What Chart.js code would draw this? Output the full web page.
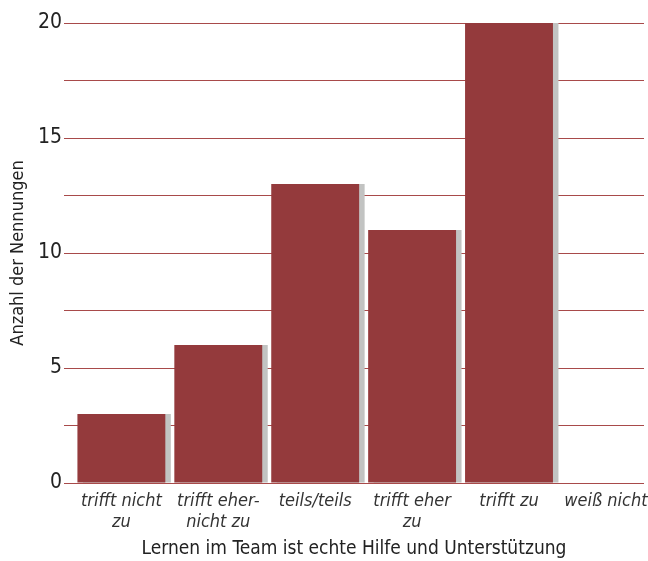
<!DOCTYPE html>
<html>
<head>
<meta charset="utf-8">
<script src="https://cdn.jsdelivr.net/npm/chart.js@4/dist/chart.umd.min.js"></script>
<style>
  html, body { margin: 0; padding: 0; background: #ffffff; }
  #wrap { width: 648px; height: 561px; }
</style>
</head>
<body>
<div id="wrap"><canvas id="c" width="648" height="561"></canvas></div>
<script>
// Answer categories (multi-line axis labels)
const categories = [
  ['trifft nicht', 'zu'],
  ['trifft eher-', 'nicht zu'],
  ['teils/teils'],
  ['trifft eher', 'zu'],
  ['trifft zu'],
  ['weiß nicht']
];
// Number of mentions per category
const counts = [3, 6, 13, 11, 20, 0];
// Value axis: labelled ticks and grid step
const yLabelledTicks = [0, 5, 10, 15, 20];
const yGridStep = 2.5;

const FONT = "'Liberation Sans Narrow', 'DejaVu Sans Condensed', 'Roboto', sans-serif";

// Flat grey offset shadow behind each bar
const barShadow = {
  id: 'barShadow',
  beforeDatasetDraw(chart, args, opts) {
    const ctx = chart.ctx;
    ctx.save();
    ctx.shadowColor = opts.color;
    ctx.shadowOffsetX = opts.offsetX;
    ctx.shadowOffsetY = 0;
    ctx.shadowBlur = 0;
  },
  afterDatasetDraw(chart) {
    chart.ctx.restore();
  }
};

new Chart(document.getElementById('c'), {
  type: 'bar',
  data: {
    datasets: [{
      data: counts.map((v, i) => ({ x: i, y: v })),
      backgroundColor: '#943a3c',
      borderWidth: 0,
      barPercentage: 0.907,
      categoryPercentage: 1
    }]
  },
  plugins: [barShadow],
  options: {
    responsive: false,
    animation: false,
    devicePixelRatio: 1,
    layout: { padding: { top: 23, right: 4, left: 0, bottom: 0 } },
    plugins: {
      legend: { display: false },
      tooltip: { enabled: false },
      barShadow: { color: '#c2c3c2', offsetX: 5.5 }
    },
    scales: {
      x: {
        type: 'linear',
        offset: false,
        min: -0.592,
        max: 5.393,
        afterBuildTicks(scale) {
          scale.ticks = categories.map((_, i) => ({ value: i }));
        },
        afterFit(scale) {
          scale.height = 78;
          // labels may overhang the plot edges without shrinking it
          scale.paddingLeft = 0;
          scale.paddingRight = 0;
        },
        grid: { display: false, drawTicks: false, offset: false },
        border: { display: false },
        ticks: {
          autoSkip: false,
          maxRotation: 0,
          padding: 8,
          color: '#333333',
          font: { family: FONT, size: 18, style: 'italic', lineHeight: 1.15 },
          callback: (v) => categories[v]
        },
        title: {
          display: true,
          text: 'Lernen im Team ist echte Hilfe und Unterstützung',
          color: '#222222',
          font: { family: FONT, size: 19, lineHeight: 1.2 },
          padding: { top: 0, bottom: 1 }
        }
      },
      y: {
        min: 0,
        max: 20,
        afterFit(scale) { scale.width = 64; },
        grid: { color: '#a84a4a', lineWidth: 1, drawTicks: false },
        border: { display: false },
        ticks: {
          stepSize: yGridStep,
          padding: 2,
          color: '#222222',
          font: { family: FONT, size: 21 },
          callback: (v) => (yLabelledTicks.includes(v) ? String(v) : '')
        },
        title: {
          display: true,
          text: 'Anzahl der Nennungen',
          color: '#222222',
          font: { family: FONT, size: 18, lineHeight: 1.2 },
          padding: { top: 8, bottom: 0 }
        }
      }
    }
  }
});
</script>
</body>
</html>
